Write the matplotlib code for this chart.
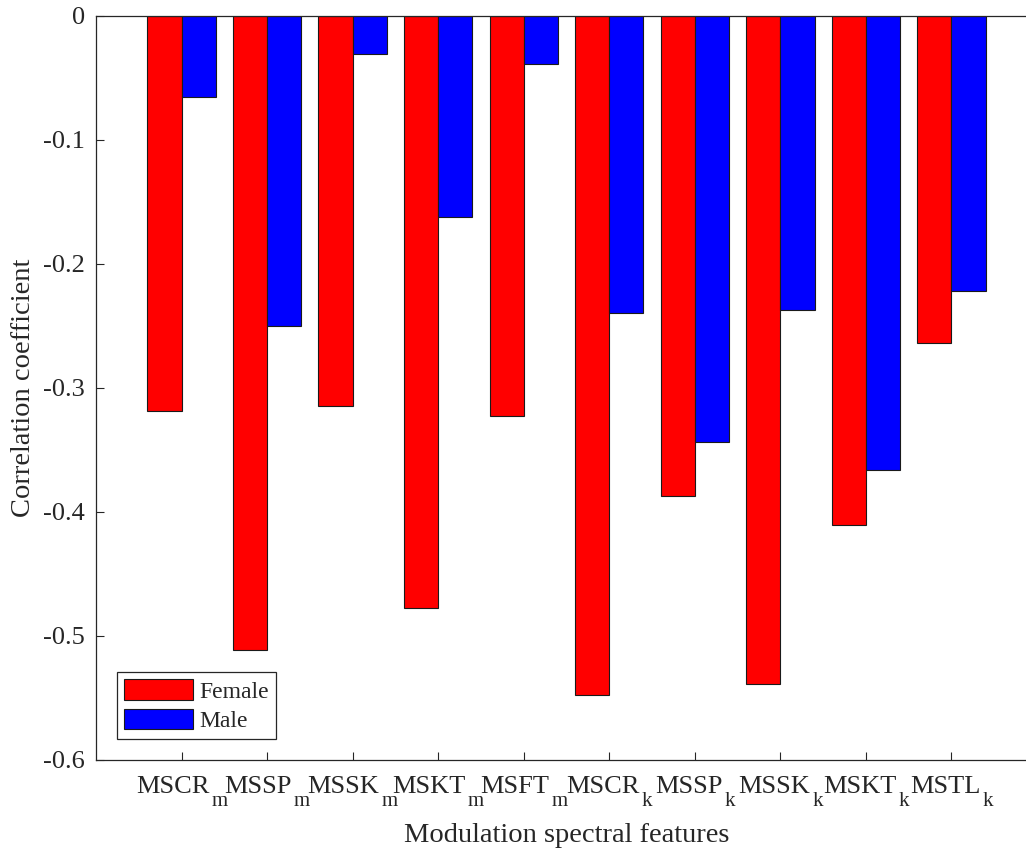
import numpy as np
import matplotlib
matplotlib.use("Agg")
import matplotlib.pyplot as plt
import matplotlib.transforms as mtransforms

feature_names = ["MSCR", "MSSP", "MSSK", "MSKT", "MSFT", "MSCR", "MSSP", "MSSK", "MSKT", "MSTL"]
feature_subs = ["m", "m", "m", "m", "m", "k", "k", "k", "k", "k"]
female = [-0.319, -0.512, -0.315, -0.478, -0.323, -0.548, -0.387, -0.539, -0.411, -0.264]
male = [-0.065, -0.250, -0.031, -0.162, -0.039, -0.240, -0.344, -0.237, -0.366, -0.222]
yticks = [0, -0.1, -0.2, -0.3, -0.4, -0.5, -0.6]
ytick_labels = ["0", "-0.1", "-0.2", "-0.3", "-0.4", "-0.5", "-0.6"]

plt.rcParams['font.family'] = ['Liberation Serif', 'DejaVu Serif']

W, H = 1026, 849
fig = plt.figure(figsize=(W / 100, H / 100), dpi=100)
fig.patch.set_facecolor('white')
left, right, top, bottom = 96, 1037, 16, 759.5
ax = fig.add_axes([left / W, 1 - bottom / H, (right - left) / W, (bottom - top) / H])
ax.patch.set_visible(False)

txt = '#262626'
x = np.arange(1, len(feature_names) + 1)
w = 0.4
ax.bar(x - w / 2, female, w, color='#ff0000', edgecolor='#1a1a1a', linewidth=0.8, label='Female')
ax.bar(x + w / 2, male, w, color='#0000ff', edgecolor='#1a1a1a', linewidth=0.8, label='Male')

ax.set_xlim(0, 11)
ax.set_ylim(-0.6, 0)
ax.set_xticks(x)
ax.set_xticklabels([""] * len(x))
ax.set_yticks(yticks)
ax.set_yticklabels(ytick_labels)
ax.tick_params(direction='in', length=6, width=0.8, colors=txt, labelsize=19, pad=8)
for s in ax.spines.values():
    s.set_color(txt)
    s.set_linewidth(0.9)
ax.spines['right'].set_visible(False)

# manual tick labels with low subscripts
renderer = fig.canvas.get_renderer()
blend = mtransforms.blended_transform_factory(ax.transData, ax.transAxes)
main_fs, sub_fs = 19, 15
gap = 2.0
main_drop = 793 - bottom   # px below axis bottom to main baseline
sub_drop = 806 - bottom
for xi, name, sub in zip(x, feature_names, feature_subs):
    tm = ax.text(xi, 0, name, transform=blend, fontsize=main_fs, color=txt, ha='left', va='baseline')
    ts = ax.text(xi, 0, sub, transform=blend, fontsize=sub_fs, color=txt, ha='left', va='baseline')
    wm = tm.get_window_extent(renderer).width
    ws = ts.get_window_extent(renderer).width
    total = wm + gap + ws
    tm.set_transform(mtransforms.offset_copy(blend, fig=fig, x=-total / 2 / fig.dpi * 72,
                                             y=-main_drop / fig.dpi * 72, units='points'))
    ts.set_transform(mtransforms.offset_copy(blend, fig=fig, x=(-total / 2 + wm + gap) / fig.dpi * 72,
                                             y=-sub_drop / fig.dpi * 72, units='points'))

ax.set_ylabel('Correlation coefficient', fontsize=20.5, color=txt)
ax.yaxis.label.set_va('center')
ax.yaxis.set_label_coords((23 - left) / (right - left), 0.5)
ax.set_xlabel('Modulation spectral features', fontsize=20.5, color=txt)
ax.xaxis.label.set_va('baseline')
ax.xaxis.set_label_coords(0.5, -(842 - bottom) / (bottom - top))

leg = ax.legend(loc='lower left', bbox_to_anchor=((117 - left) / (right - left), (bottom - 739) / (bottom - top)),
                fontsize=17, fancybox=False, edgecolor=txt, framealpha=1, handlelength=2.9,
                handleheight=0.95, borderpad=0.3, borderaxespad=0, labelspacing=0.25, handletextpad=0.3)
leg.get_frame().set_linewidth(0.9)
for t in leg.get_texts():
    t.set_color(txt)

fig.savefig('out.png', dpi=100, facecolor='white')
